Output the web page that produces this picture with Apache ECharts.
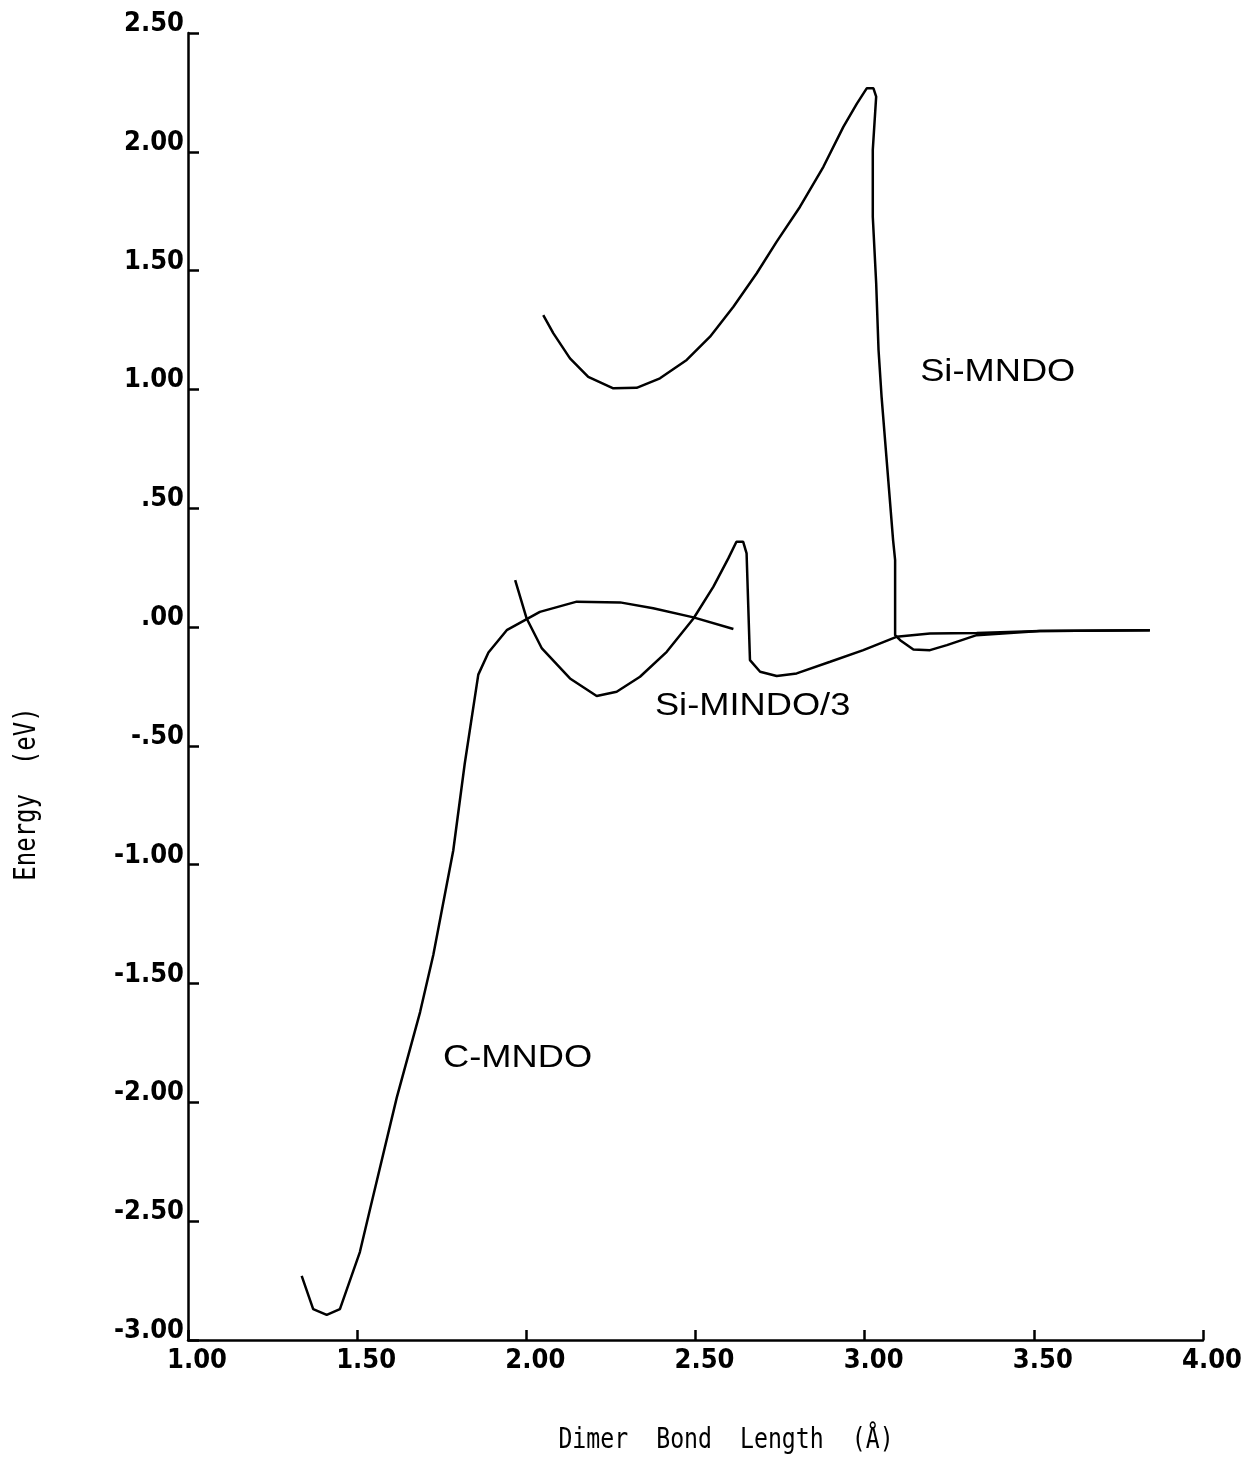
<!DOCTYPE html>
<html>
<head>
<meta charset="utf-8">
<script src="https://cdn.jsdelivr.net/npm/echarts@6/dist/echarts.min.js"></script>
<style>
  html, body { margin: 0; padding: 0; background: #fff; }
  #main { width: 1249px; height: 1468px; }
</style>
</head>
<body>
<div id="main"></div>
<script>
// values (x = dimer bond length in Å, y = energy in eV)
const cMndoX = [1.336, 1.37, 1.41, 1.449, 1.508, 1.538, 1.617, 1.686, 1.725, 1.784, 1.818, 1.858, 1.888, 1.942, 2.04, 2.149, 2.277, 2.375, 2.494, 2.612];
const cMndoY = [-2.73, -2.87, -2.894, -2.87, -2.63, -2.45, -1.98, -1.62, -1.38, -0.94, -0.574, -0.20, -0.107, -0.013, 0.064, 0.107, 0.104, 0.079, 0.041, -0.008];

const siMindoX = [1.967, 2.001, 2.046, 2.129, 2.208, 2.267, 2.336, 2.415, 2.494, 2.553, 2.597, 2.621, 2.641, 2.651, 2.656, 2.661, 2.691, 2.740, 2.799, 2.898, 2.996, 3.094, 3.193, 3.331, 3.518, 3.843];
const siMindoY = [0.198, 0.036, -0.090, -0.216, -0.290, -0.272, -0.209, -0.104, 0.036, 0.170, 0.289, 0.359, 0.359, 0.310, 0.085, -0.139, -0.188, -0.206, -0.195, -0.146, -0.097, -0.041, -0.027, -0.025, -0.016, -0.013];

const siMndoX = [2.050, 2.080, 2.129, 2.183, 2.257, 2.326, 2.395, 2.474, 2.543, 2.612, 2.681, 2.740, 2.809, 2.878, 2.937, 2.977, 3.006, 3.026, 3.034, 3.024, 3.024, 3.034, 3.041, 3.050, 3.084, 3.090, 3.090, 3.105, 3.144, 3.193, 3.243, 3.331, 3.518, 3.843];
const siMndoY = [1.313, 1.236, 1.131, 1.053, 1.005, 1.007, 1.047, 1.124, 1.222, 1.348, 1.489, 1.622, 1.769, 1.937, 2.105, 2.203, 2.267, 2.267, 2.232, 2.008, 1.727, 1.448, 1.166, 0.969, 0.366, 0.282, -0.034, -0.055, -0.094, -0.097, -0.076, -0.034, -0.016, -0.013];

// curve labels, placed in data units
const curveLabels = [
  { text: 'Si-MNDO', x: 3.164, y: 1.073 },
  { text: 'Si-MINDO/3', x: 2.380, y: -0.333 },
  { text: 'C-MNDO', x: 1.754, y: -1.814 }
];

const xName = 'Dimer  Bond  Length  (Å)';
const yName = 'Energy  (eV)';

function zip (xs, ys) {
  return xs.map((x, i) => [x, ys[i]]);
}

function tickText (v) {
  let s = Math.abs(v).toFixed(2);
  if (s.charAt(0) === '0') s = s.slice(1); // .50, .00
  return (v < 0 ? '-' : '') + s;
}

const tickFont = "'DejaVu Sans Condensed', 'DejaVu Sans Mono', monospace";
const lineStyle = { color: '#000', width: 2.5 };

let option = {
  backgroundColor: '#fff',
  animation: false,
  grid: {
    left: 188,
    top: 33,
    width: 1015,
    height: 1307,
    containLabel: false,
    outerBoundsMode: 'none'
  },
  xAxis: {
    type: 'value',
    min: 1,
    max: 4,
    interval: 0.5,
    axisLine: { show: true, onZero: false, lineStyle: { color: '#000', width: 2.5 } },
    axisTick: { show: true, inside: true, length: 10, lineStyle: { color: '#000', width: 2.5 } },
    axisLabel: {
      formatter: tickText,
      color: '#000',
      fontFamily: tickFont,
      fontWeight: 'bold',
      fontSize: 27,
      margin: 7,
      padding: [0, 0, 0, 18]
    },
    splitLine: { show: false }
  },
  yAxis: {
    type: 'value',
    min: -3,
    max: 2.5,
    interval: 0.5,
    axisLine: { show: true, onZero: false, lineStyle: { color: '#000', width: 2.5 } },
    axisTick: { show: true, inside: true, length: 11, lineStyle: { color: '#000', width: 2.5 } },
    axisLabel: {
      formatter: tickText,
      color: '#000',
      fontFamily: tickFont,
      fontWeight: 'bold',
      fontSize: 27,
      lineHeight: 18,
      margin: 4,
      verticalAlign: 'bottom'
    },
    splitLine: { show: false }
  },
  series: [
    { name: 'C-MNDO', type: 'line', data: zip(cMndoX, cMndoY), showSymbol: false, lineStyle: lineStyle },
    { name: 'Si-MINDO/3', type: 'line', data: zip(siMindoX, siMindoY), showSymbol: false, lineStyle: lineStyle },
    { name: 'Si-MNDO', type: 'line', data: zip(siMndoX, siMndoY), showSymbol: false, lineStyle: lineStyle }
  ]
};

let myChart = echarts.init(document.getElementById('main'));
myChart.setOption(option);

// labels and axis titles
let graphics = curveLabels.map(function (l) {
  const p = myChart.convertToPixel({ gridIndex: 0 }, [l.x, l.y]);
  return {
    type: 'text',
    x: p[0],
    y: p[1],
    scaleX: 1.17,
    style: {
      text: l.text,
      fill: '#000',
      font: "31px 'Liberation Sans', Arial, sans-serif",
      verticalAlign: 'middle',
      align: 'left'
    }
  };
});
graphics.push({
  type: 'text',
  x: 726,
  y: 1440,
  scaleX: 0.8,
  style: {
    text: xName,
    fill: '#000',
    font: "29px 'DejaVu Sans Mono', monospace",
    align: 'center',
    verticalAlign: 'middle'
  }
});
graphics.push({
  type: 'text',
  x: 27,
  y: 794,
  rotation: Math.PI / 2,
  scaleX: 0.8,
  style: {
    text: yName,
    fill: '#000',
    font: "30px 'DejaVu Sans Mono', monospace",
    align: 'center',
    verticalAlign: 'middle'
  }
});
myChart.setOption({ graphic: graphics });
</script>
</body>
</html>
